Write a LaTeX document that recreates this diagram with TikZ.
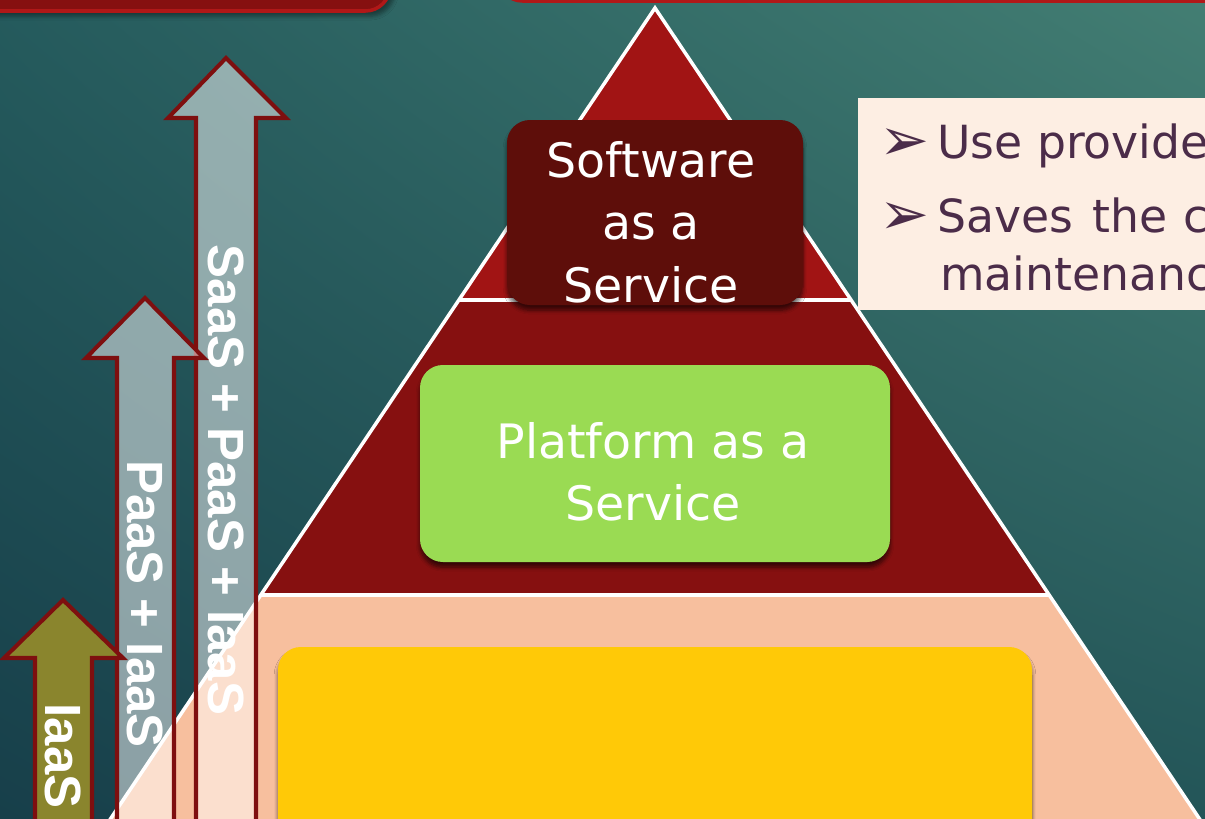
\documentclass[tikz,border=0pt]{standalone}
\usepackage{fontspec}
\setmainfont{DejaVu Sans}
\newfontfamily\labelfont{Liberation Sans}
\usetikzlibrary{shadings,shadows.blur}
\definecolor{bgtl}{HTML}{255B5D}
\definecolor{bgtr}{HTML}{437E73}
\definecolor{bgbl}{HTML}{173F4A}
\definecolor{bgbr}{HTML}{235558}
\definecolor{topred}{HTML}{861010}
\definecolor{toprim}{HTML}{B01818}
\definecolor{saasred}{HTML}{A11414}
\definecolor{paasred}{HTML}{861010}
\definecolor{iaaspeach}{HTML}{F7BF9E}
\definecolor{saasbox}{HTML}{5E0E0A}
\definecolor{paasbox}{HTML}{9ADB53}
\definecolor{iaasbox}{HTML}{FFC907}
\definecolor{arrowred}{HTML}{7E0F0F}
\definecolor{olive}{HTML}{8A852D}
\definecolor{notefill}{HTML}{FDEEE3}
\definecolor{noteink}{HTML}{4B2C49}
\begin{document}
\begin{tikzpicture}[x=0.02cm,y=-0.02cm]
\tikzstyle{every node}+=[inner sep=0pt]
\tikzstyle{layerline}=[white, line width=2pt]
\tikzstyle{stackarrow}=[draw=arrowred, line width=2.3pt, line join=miter]
\tikzstyle{tierbox}=[rounded corners=13pt, blur shadow={shadow xshift=0pt, shadow yshift=-3pt, shadow blur steps=6, shadow opacity=60}]
\tikzstyle{tiertext}=[white, align=center, font=\fontsize{27}{35.5}\selectfont]
\tikzstyle{arrowtext}=[white, rotate=-90, font=\labelfont\bfseries\fontsize{29}{29}\selectfont]
\tikzstyle{notetext}=[noteink, anchor=base west, font=\fontsize{26}{30}\selectfont]
\tikzstyle{notebullet}=[noteink, anchor=base west, font=\fontsize{34}{34}\selectfont]
\useasboundingbox (0,0) rectangle (1205,819);
\shade [upper left=bgtl, upper right=bgtr, lower left=bgbl, lower right=bgbr] (0,0) rectangle (1205,819);
\draw [fill=topred, draw=toprim, line width=2pt, rounded corners=14pt, blur shadow={shadow yshift=-3pt, shadow opacity=40}] (-50,-100) rectangle (390,11);
\draw [fill=topred, draw=toprim, line width=2pt, rounded corners=14pt] (498,-100) rectangle (1300,1);
\begin{scope}
\clip (655,8) -- (103,830) -- (1207,830) -- cycle;
\fill [saasred] (0,0) rectangle (1205,300);
\fill [paasred] (0,300) rectangle (1205,595);
\fill [iaaspeach] (0,595) rectangle (1205,830);
\end{scope}
\draw [layerline] (459,300) -- (851,300);
\draw [layerline] (260,595) -- (1050,595);
\draw [layerline, line join=miter] (103,830) -- (655,8) -- (1207,830);
\fill [tierbox, saasbox] (507,120) rectangle (803,305);
\node [tiertext] (saas) at (651,222) {Software\\as a\\Service};
\fill [tierbox, paasbox] (420,365) rectangle (890,562);
\node [tiertext] (paas) at (653,472) {Platform as a\\Service};
\fill [tierbox, iaasbox] (278,647) rectangle (1032,860);
\fill [notefill] (858,98) rectangle (1300,310);
\node [notebullet] (bullet1) at (879,160) {➢};
\node [notetext] (note1) at (937,158) {Use provide};
\node [notebullet] (bullet2) at (879,234) {➢};
\node [notetext] (note2) at (937,232) {Saves\hspace{0.42em}the\hspace{0.36em}co};
\node [notetext] (note3) at (940,290) {maintenanc};
\draw [stackarrow, fill=white, fill opacity=0.5] (196,830) -- (196,118) -- (168,118) -- (226,58) -- (286,118) -- (256,118) -- (256,830);
\node [arrowtext] (saaslabel) at (226,480) {SaaS + PaaS + IaaS};
\draw [stackarrow, fill=white, fill opacity=0.5] (117,830) -- (117,358) -- (86,358) -- (145,298) -- (204,358) -- (174,358) -- (174,830);
\node [arrowtext] (paaslabel) at (145,604) {PaaS + IaaS};
\draw [stackarrow, fill=olive] (35,830) -- (35,658) -- (4,658) -- (63,600) -- (123,658) -- (92,658) -- (92,830);
\node [arrowtext] (iaaslabel) at (63,756) {IaaS};
\end{tikzpicture}
\end{document}
